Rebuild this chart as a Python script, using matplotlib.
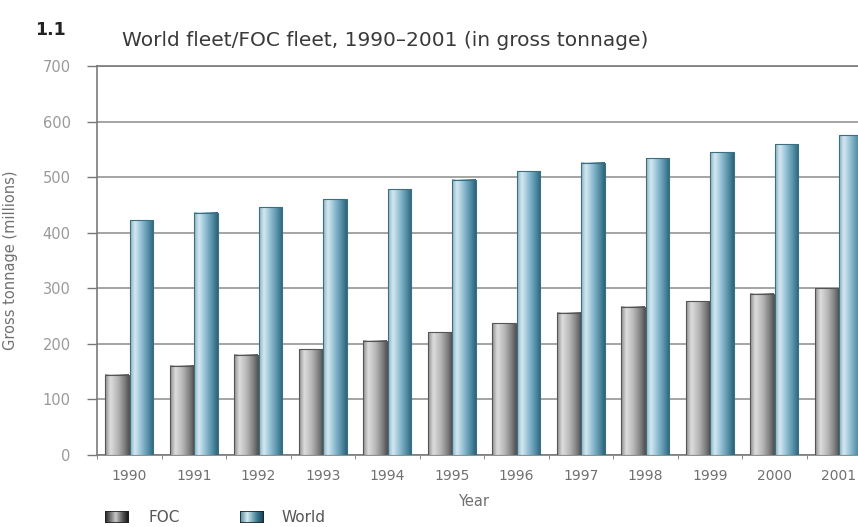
import numpy as np
import matplotlib
matplotlib.use("Agg")
import matplotlib.pyplot as plt
from matplotlib.colors import LinearSegmentedColormap
from matplotlib.patches import Rectangle

plt.rcParams['font.family'] = ['DejaVu Sans']

years = ['1990', '1991', '1992', '1993', '1994', '1995', '1996',
         '1997', '1998', '1999', '2000', '2001']
foc = [144, 161, 180, 190, 206, 221, 237, 256, 267, 277, 290, 300]
world = [422, 436, 446, 460, 478, 495, 511, 526, 534, 545, 559, 575]
yticks = [0, 100, 200, 300, 400, 500, 600, 700]

foc_cmap = LinearSegmentedColormap.from_list(
    'foc', [(0.0, '#8c8c8c'), (0.22, '#dedede'), (0.55, '#b4b4b4'),
            (0.85, '#7a7a7a'), (1.0, '#555555')])
world_cmap = LinearSegmentedColormap.from_list(
    'world', [(0.0, '#8ab0c0'), (0.2, '#d4e9f2'), (0.5, '#8dbbcf'),
              (0.82, '#4a879f'), (1.0, '#2c6478')])
foc_key_cmap = LinearSegmentedColormap.from_list(
    'foc_key', [(0.0, '#222222'), (0.45, '#c8c8c8'), (0.75, '#555555'),
                (1.0, '#111111')])
world_key_cmap = LinearSegmentedColormap.from_list(
    'world_key', [(0.0, '#4d8aa0'), (0.3, '#d4e9f2'), (0.7, '#3f7d93'),
                  (1.0, '#123f50')])

fig = plt.figure(figsize=(8.58, 5.27), dpi=100)
ax = fig.add_axes([97 / 858, 72 / 527, 774 / 858, 389 / 527])

x = np.arange(len(years))
w = 0.37
off = 0.19
bars_foc = ax.bar(x - off, foc, w, color='none', edgecolor='#555555',
                  linewidth=0.8, zorder=4)
bars_world = ax.bar(x + off, world, w, color='none', edgecolor='#3c6f80',
                    linewidth=0.8, zorder=4)

# cylinder-style horizontal shading inside each bar
grad = np.linspace(0, 1, 64).reshape(1, -1)
for bars, cmap in ((bars_foc, foc_cmap), (bars_world, world_cmap)):
    for p in bars:
        x0, y0 = p.get_x(), p.get_y()
        bw, bh = p.get_width(), p.get_height()
        ax.imshow(grad, cmap=cmap, aspect='auto',
                  extent=(x0, x0 + bw, y0, y0 + bh), zorder=3,
                  interpolation='bicubic')

ax.set_xlim(-0.5, len(years) - 0.5)
ax.set_ylim(0, 700)
ax.set_yticks(yticks)
ax.set_yticklabels([str(v) for v in yticks])
ax.yaxis.grid(True, color='#8c8c8c', linewidth=1.1, zorder=1)
ax.set_axisbelow(True)

ax.set_xticks(x)
ax.set_xticklabels(years)
ax.set_xticks(np.arange(-0.5, len(years), 1.0), minor=True)
ax.tick_params(axis='x', which='major', length=0, pad=10,
               labelsize=10, labelcolor='#707070')
ax.tick_params(axis='x', which='minor', length=3, color='#777777')
ax.tick_params(axis='y', length=7, color='#777777', width=1,
               labelsize=10.5, labelcolor='#9a9a9a', pad=12)

for s in ('left', 'bottom', 'top'):
    ax.spines[s].set_color('#7a7a7a')
    ax.spines[s].set_linewidth(1.2)
ax.spines['right'].set_visible(False)

ax.set_ylabel('Gross tonnage (millions)', fontsize=10.5, color='#707070')
ax.yaxis.set_label_coords((18 - 97) / 774, 0.5)
fig.text(458 / 858, 1 - 502 / 527, 'Year', fontsize=10.5, color='#707070',
         ha='left', va='center')

fig.text(35 / 858, 1 - 30 / 527, '1.1', fontsize=12.5, fontweight='bold',
         color='#222222', ha='left', va='center')
fig.text(122 / 858, 1 - 40 / 527,
         'World fleet/FOC fleet, 1990–2001 (in gross tonnage)',
         fontsize=14.5, color='#3a3a3a', ha='left', va='center')

# legend swatches
for (x0, label, cmap, tx) in ((105, 'FOC', foc_key_cmap, 148),
                              (240, 'World', world_key_cmap, 282)):
    lax = fig.add_axes([x0 / 858, 1 - 523 / 527, 24 / 858, 12 / 527])
    lax.imshow(grad, cmap=cmap, aspect='auto', extent=(0, 1, 0, 1))
    lax.add_patch(Rectangle((0, 0), 1, 1, fill=False, edgecolor='#222222',
                            linewidth=1.2, transform=lax.transAxes))
    lax.set_axis_off()
    fig.text(tx / 858, 1 - 517 / 527, label, fontsize=11, color='#555555',
             ha='left', va='center')

fig.savefig('out.png', dpi=100)
